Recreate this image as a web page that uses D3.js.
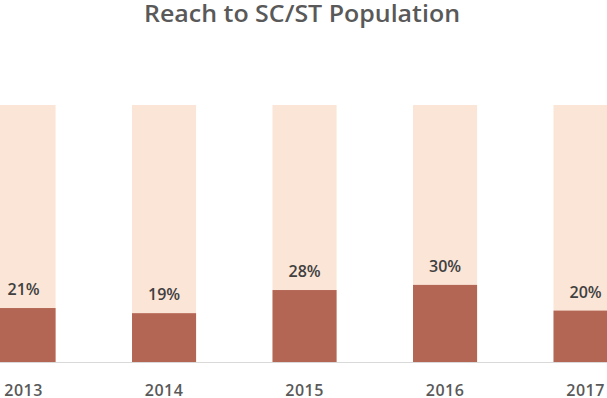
<!DOCTYPE html>
<html>
<head>
<meta charset="utf-8">
<script src="https://cdn.jsdelivr.net/npm/d3@7"></script>
<style>
  body { margin: 0; background: #fff; }
  svg { display: block; font-family: "Open Sans", sans-serif; }
</style>
</head>
<body>
<script>

var width = 607,
    height = 398;

// data
var years = ["2013", "2014", "2015", "2016", "2017"];
var reach = [21, 19, 28, 30, 20];      // % of SC/ST population reached
var fullScale = [100, 100, 100, 100, 100];

var x = d3.scaleBand()
    .domain(years)
    .range([-46.7, 655.8])
    .paddingInner(0.544)
    .paddingOuter(0.272);

var y = d3.scaleLinear()
    .domain([0, 100])
    .range([362, 105]);

var svg = d3.select("body").append("svg")
    .attr("width", width)
    .attr("height", height);

svg.append("text")
    .attr("x", 302)
    .attr("y", 22)
    .attr("text-anchor", "middle")
    .attr("textLength", 316)
    .attr("lengthAdjust", "spacingAndGlyphs")
    .style("font-size", "24px")
    .style("font-weight", "600")
    .style("fill", "#595959")
    .text("Reach to SC/ST Population");

// background (100%) bars
svg.selectAll(".bg")
    .data(fullScale)
    .enter().append("rect")
        .attr("class", "bg")
        .attr("x", function(d, i) { return x(years[i]); })
        .attr("y", function(d) { return y(d); })
        .attr("width", x.bandwidth())
        .attr("height", function(d) { return y(0) - y(d); })
        .style("fill", "#FBE5D6");

// value bars
svg.selectAll(".bar")
    .data(reach)
    .enter().append("rect")
        .attr("class", "bar")
        .attr("x", function(d, i) { return x(years[i]); })
        .attr("y", function(d) { return y(d); })
        .attr("width", x.bandwidth())
        .attr("height", function(d) { return y(0) - y(d); })
        .style("fill", "#B46655");

svg.selectAll(".val")
    .data(reach)
    .enter().append("text")
        .attr("class", "val")
        .attr("x", function(d, i) { return x(years[i]) + x.bandwidth() / 2; })
        .attr("y", function(d) { return y(d) - 13; })
        .attr("text-anchor", "middle")
        .style("font-size", "16px")
        .style("font-weight", "600")
        .style("fill", "#404040")
        .text(function(d) { return d + "%"; });

// x axis
var xAxis = svg.append("g")
    .attr("transform", "translate(0," + y(0) + ")")
    .call(d3.axisBottom(x).tickSize(0).tickPadding(23));

xAxis.select(".domain")
    .attr("d", "M0,0.5H" + width)
    .style("stroke", "#D9D9D9");

xAxis.selectAll("text")
    .attr("dy", "0.71em")
    .style("font-family", "'Open Sans', sans-serif")
    .style("font-size", "16px")
    .style("font-weight", "600")
    .style("letter-spacing", "0.5px")
    .style("fill", "#595959");

</script>
</body>
</html>
